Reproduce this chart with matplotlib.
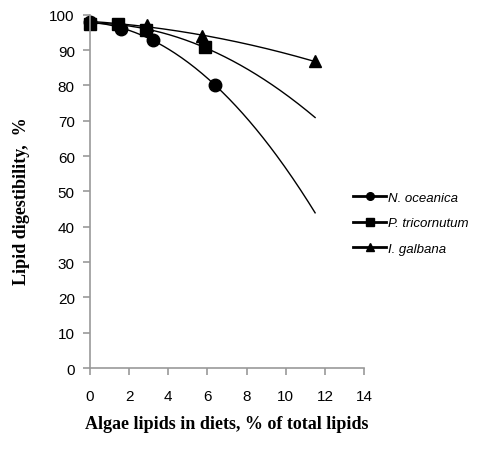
import numpy as np
import matplotlib.pyplot as plt

# data
x_noc = [0, 1.6, 3.2, 6.4]
y_noc = [98, 96, 93, 80]
x_ptr = [0, 1.45, 2.85, 5.85]
y_ptr = [97.5, 97.5, 95.8, 90.8]
x_iga = [0, 2.9, 5.7, 11.5]
y_iga = [98, 97, 94, 86.8]
names = ['N. oceanica', 'P. tricornutum', 'I. galbana']
markers = ['o', 's', '^']
trend_end = 11.5

plt.rcParams['font.family'] = ['Liberation Sans', 'DejaVu Sans']
fig = plt.figure(figsize=(4.79, 4.52), dpi=100)
ax = fig.add_axes([0.188, 0.1836, 0.572, 0.7814])

xs = np.linspace(0, trend_end, 200)
handles = []
for xd, yd, nm, mk in zip([x_noc, x_ptr, x_iga], [y_noc, y_ptr, y_iga], names, markers):
    coef = np.polyfit(xd, yd, 2)
    ax.plot(xs, np.polyval(coef, xs), color='black', lw=1)
    ax.plot(xd, yd, linestyle='none', marker=mk, color='black', ms=9, clip_on=False)
    h, = ax.plot([], [], color='black', lw=2, marker=mk, ms=5.5, label=nm)
    handles.append(h)

ax.set_xlim(0, 14)
ax.set_ylim(0, 100)
ax.set_xticks(range(0, 15, 2))
ax.set_yticks(range(0, 101, 10))
for s in ['top', 'right']:
    ax.spines[s].set_visible(False)
for s in ['left', 'bottom']:
    ax.spines[s].set_color('#999999')
    ax.spines[s].set_linewidth(1.2)
ax.tick_params(direction='out', color='#999999', length=5, width=1.2, labelsize=11)
ax.tick_params(axis='x', pad=10)
ax.tick_params(axis='y', pad=6)

ax.set_xlabel('Algae lipids in diets, % of total lipids', family='Liberation Serif',
              fontweight='bold', fontsize=13, labelpad=9)
ax.set_ylabel('Lipid digestibility,  %', family='Liberation Serif',
              fontweight='bold', fontsize=13, labelpad=14)
ax.yaxis.label.set_y(0.475)

leg = fig.legend(handles=handles, loc='upper left', bbox_to_anchor=(0.724, 0.588),
                 frameon=False, borderpad=0, handlelength=2.5, labelspacing=1.0,
                 handletextpad=0.15, prop={'style': 'italic', 'size': 9.5})

fig.savefig('out.png', dpi=100)
